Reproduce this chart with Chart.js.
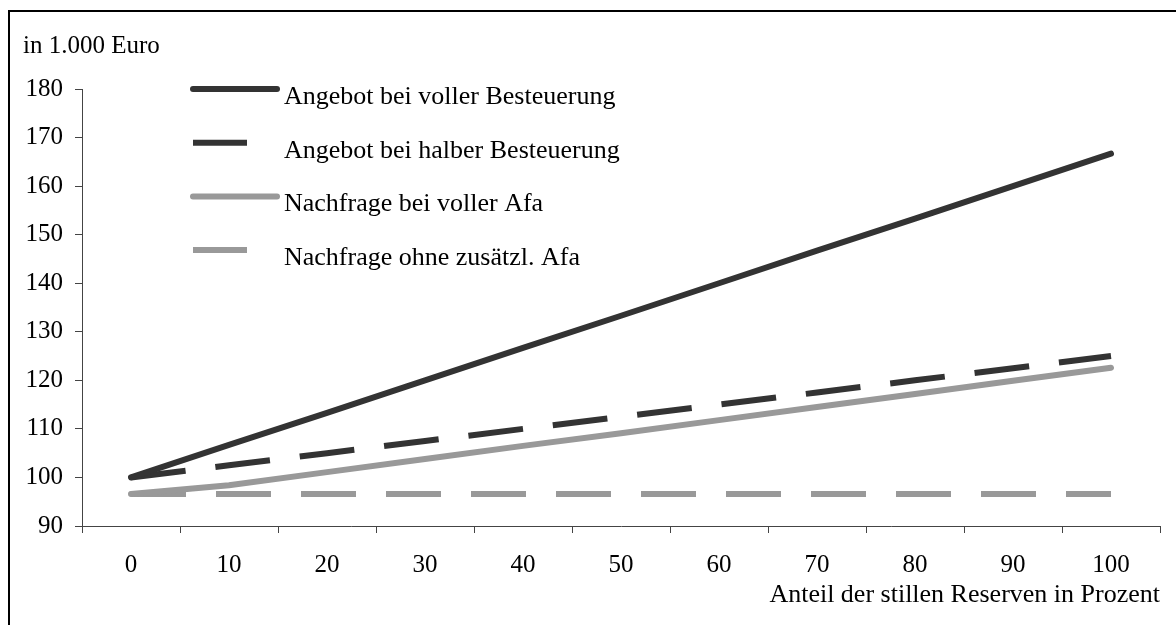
<!DOCTYPE html>
<html>
<head>
<meta charset="utf-8">
<script src="https://cdn.jsdelivr.net/npm/chart.js@4.4.1/dist/chart.umd.min.js"></script>
<style>
  html, body { margin: 0; padding: 0; background: #fff; }
  #wrap { position: relative; width: 1176px; height: 625px; overflow: hidden; background: #fff; }
  #frame { position: absolute; left: 8px; top: 10px; width: 1220px; height: 700px; border: 2px solid #000; box-sizing: border-box; }
  canvas { position: absolute; left: 0; top: 0; }
</style>
</head>
<body>
<div id="wrap">
  <div id="frame"></div>
  <canvas id="chart" width="1176" height="625"></canvas>
</div>
<script>
// x categories: Anteil der stillen Reserven in Prozent
const categories = ['0', '10', '20', '30', '40', '50', '60', '70', '80', '90', '100'];

// values in 1.000 Euro
const angebotVoll   = [100, 106.7, 113.3, 120, 126.7, 133.3, 140, 146.7, 153.3, 160, 166.7];
const angebotHalb   = [100, 102.5, 105, 107.5, 110, 112.5, 115, 117.5, 120, 122.5, 125];
const nachfrageVoll = [96.6, 98.4, 101.1, 103.8, 106.5, 109.1, 111.8, 114.5, 117.2, 119.9, 122.6];
const nachfrageOhne = [96.6, 96.6, 96.6, 96.6, 96.6, 96.6, 96.6, 96.6, 96.6, 96.6, 96.6];

const seriesLabels = [
  'Angebot bei voller Besteuerung',
  'Angebot bei halber Besteuerung',
  'Nachfrage bei voller Afa',
  'Nachfrage ohne zusätzl. Afa'
];

const yTitle = 'in 1.000 Euro';
const xTitle = 'Anteil der stillen Reserven in Prozent';

const DARK = '#333333';
const GREY = '#999999';
const FONT = "'Liberation Serif', 'Times New Roman', serif";

Chart.defaults.font.family = FONT;
Chart.defaults.font.size = 25;
Chart.defaults.color = '#000';

// own legend + y title, drawn on top of the plot
const extras = {
  id: 'extras',
  afterDraw(chart) {
    const ctx = chart.ctx;
    ctx.save();
    ctx.fillStyle = '#000';
    ctx.textBaseline = 'middle';
    ctx.textAlign = 'left';
    ctx.font = '25px ' + FONT;
    ctx.fillText(yTitle, 23, 46);

    ctx.font = '26px ' + FONT;
    chart.data.datasets.forEach((ds, i) => {
      const y = 89 + i * 53.7;
      ctx.beginPath();
      ctx.strokeStyle = ds.borderColor;
      ctx.lineWidth = ds.borderWidth;
      if (ds.borderDash && ds.borderDash.length) {
        ctx.lineCap = 'butt';
        ctx.moveTo(193, y);
        ctx.lineTo(247, y);
      } else {
        ctx.lineCap = 'round';
        ctx.moveTo(193, y);
        ctx.lineTo(277, y);
      }
      ctx.stroke();
      ctx.fillText(ds.label, 284, y + 8);
    });
    ctx.restore();
  }
};

const ctx = document.getElementById('chart').getContext('2d');
new Chart(ctx, {
  type: 'line',
  data: {
    labels: categories,
    datasets: [
      { label: seriesLabels[0], data: angebotVoll, borderColor: DARK, borderWidth: 6, borderCapStyle: 'round' },
      { label: seriesLabels[1], data: angebotHalb, borderColor: DARK, borderWidth: 6, borderDash: [55, 30], borderCapStyle: 'butt' },
      { label: seriesLabels[2], data: nachfrageVoll, borderColor: GREY, borderWidth: 6, borderCapStyle: 'round' },
      { label: seriesLabels[3], data: nachfrageOhne, borderColor: GREY, borderWidth: 6, borderDash: [55, 30], borderCapStyle: 'butt' }
    ]
  },
  options: {
    responsive: false,
    animation: false,
    elements: {
      point: { radius: 0, hoverRadius: 0 },
      line: { tension: 0, fill: false, borderJoinStyle: 'round' }
    },
    layout: { padding: { left: 12, top: 89, right: 16, bottom: 9 } },
    plugins: {
      legend: { display: false },
      tooltip: { enabled: false }
    },
    scales: {
      x: {
        offset: true,
        grid: { offset: true, drawOnChartArea: false, drawTicks: true, tickLength: 7, color: '#444' },
        border: { display: true, color: '#444', width: 1 },
        ticks: { padding: 17, maxRotation: 0 },
        title: { display: true, text: xTitle, align: 'end', font: { size: 26 }, padding: { top: 0, bottom: 5 } },
        afterFit(scale) { scale.height = 90; }
      },
      y: {
        min: 90,
        max: 180,
        grid: { drawOnChartArea: false, drawTicks: true, tickLength: 7, color: '#444' },
        border: { display: true, color: '#444', width: 1 },
        ticks: { stepSize: 10, padding: 12 },
        afterFit(scale) { scale.width = 70; }
      }
    }
  },
  plugins: [extras]
});
</script>
</body>
</html>
